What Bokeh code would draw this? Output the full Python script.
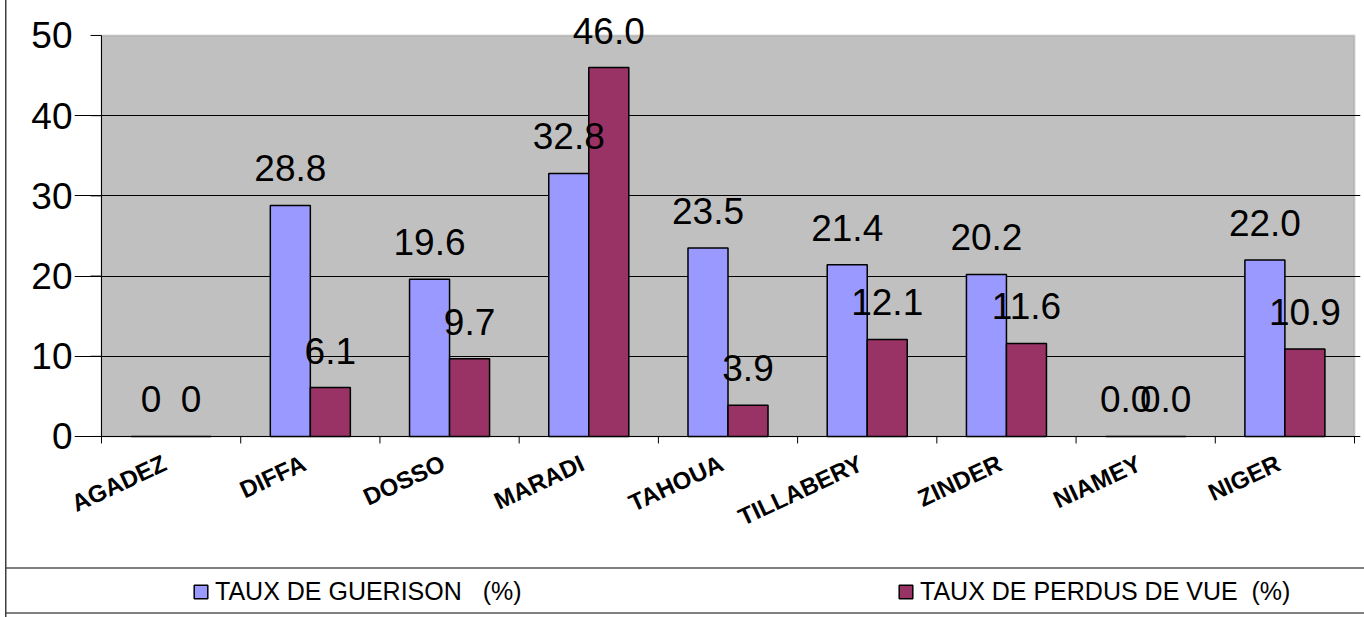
from math import radians

from bokeh.core.properties import value
from bokeh.embed import file_html
from bokeh.models import (BoxAnnotation, ColumnDataSource, FixedTicker, LabelSet, Legend,
                          LegendItem, Range1d)
from bokeh.plotting import figure
from bokeh.resources import INLINE
from bokeh.transform import dodge

# Data
regions = ["AGADEZ", "DIFFA", "DOSSO", "MARADI", "TAHOUA", "TILLABERY", "ZINDER", "NIAMEY", "NIGER"]
taux_guerison = [0, 28.8, 19.6, 32.8, 23.5, 21.4, 20.2, 0.0, 22.0]
taux_perdus = [0, 6.1, 9.7, 46.0, 3.9, 12.1, 11.6, 0.0, 10.9]
labels_guerison = ["0", "28.8", "19.6", "32.8", "23.5", "21.4", "20.2", "0.0", "22.0"]
labels_perdus = ["0", "6.1", "9.7", "46.0", "3.9", "12.1", "11.6", "0.0", "10.9"]
y_ticks = [0, 10, 20, 30, 40, 50]
series_names = ["TAUX DE GUERISON   (%)", "TAUX DE PERDUS DE VUE  (%)"]

FONT = "Liberation Sans"
BLUE = "#9999FF"
PLUM = "#993366"
BAR_W = 0.2874
Y_MAX = y_ticks[-1]
TICK_LEN_Y = 0.87        # category tick length, in value units
TICK_LEN_X = 0.079       # value tick length, in category units

n = len(regions)
centers = [i + 0.5 for i in range(n)]
bounds = list(range(n + 1))
src = ColumnDataSource(dict(pos=centers, region=regions, g=taux_guerison, pv=taux_perdus,
                            lg=labels_guerison, lp=labels_perdus))
edges = ColumnDataSource(dict(x=bounds))
yticks_src = ColumnDataSource(dict(y=y_ticks))

# the frame covers nearly the whole canvas so the value labels, slanted
# region names and the legend strip can all sit on it
p = figure(x_range=Range1d(-0.1939, 9.043), y_range=Range1d(-22.57, 54.36),
           width=1364, height=617, output_backend="svg", toolbar_location=None,
           x_axis_location=None,
           min_border_left=74, min_border_right=4,
           min_border_top=0, min_border_bottom=0)
p.background_fill_color = None
p.border_fill_color = None
p.outline_line_color = None
p.styles = {
    "background-color": "white",
    "background-image": ("linear-gradient(#404040, #404040), "
                         "linear-gradient(#808080, #808080), "
                         "linear-gradient(#808080, #808080)"),
    "background-size": "1.5px 100%, 100% 2px, 100% 2px",
    "background-position": "5px 0px, 5px 567px, 5px 612px",
    "background-repeat": "no-repeat",
}

# grey plot area
p.add_layout(BoxAnnotation(left=0, right=n, bottom=0, top=Y_MAX,
                           fill_color="#C0C0C0", fill_alpha=1,
                           line_color="#808080", line_width=2, level="image"))

# value axis: labels from the axis, line and ticks on the value scale
ya = p.yaxis[0]
ya.ticker = FixedTicker(ticks=y_ticks)
ya.bounds = (0, Y_MAX)
ya.axis_line_color = None
ya.major_tick_line_color = None
ya.major_tick_out = 0
ya.major_tick_in = 0
ya.minor_tick_line_color = None
ya.major_label_text_font = FONT
ya.major_label_text_font_size = "37px"
ya.major_label_text_color = "black"
ya.major_label_standoff = 2

p.segment(x0=0, y0=0, x1=0, y1=Y_MAX, line_color="black", line_width=1)
p.segment(x0=-TICK_LEN_X, y0="y", x1=0, y1="y", source=yticks_src,
          line_color="black", line_width=1)

# horizontal rules, the one at 0 doubling as the category baseline
p.xgrid.visible = False
p.ygrid.ticker = FixedTicker(ticks=y_ticks[:-1])
p.ygrid.grid_line_color = "black"
p.ygrid.grid_line_width = 1
p.ygrid.bounds = (0, n)

# tick marks between the groups
p.segment(x0="x", y0=0, x1="x", y1=-TICK_LEN_Y, source=edges,
          line_color="black", line_width=1)

# bars
r_g = p.vbar(x=dodge("pos", -BAR_W / 2), top="g", width=BAR_W,
             source=src, fill_color=BLUE, line_color="black", line_width=1.5)
r_p = p.vbar(x=dodge("pos", BAR_W / 2), top="pv", width=BAR_W,
             source=src, fill_color=PLUM, line_color="black", line_width=1.5)

for field, text, off in (("g", "lg", -BAR_W / 2), ("pv", "lp", BAR_W / 2)):
    p.add_layout(LabelSet(x=dodge("pos", off), y=field, text=text,
                          source=src, y_offset=24, text_align="center",
                          text_baseline="alphabetic", text_font=value(FONT),
                          text_font_size="37px", text_color="black", level="overlay"))

# slanted region names under each group
p.add_layout(LabelSet(x="pos", y=0, text="region", source=src,
                      x_offset=-12, y_offset=-13, angle=radians(25),
                      text_align="right", text_baseline="top",
                      text_font=value(FONT), text_font_style="bold",
                      text_font_size="24px", text_color="black"))

# legend strip below the chart
legend = Legend(items=[LegendItem(label=series_names[0], renderers=[r_g]),
                       LegendItem(label=series_names[1], renderers=[r_p])],
                orientation="horizontal", location=(118, 11),
                border_line_color=None, background_fill_alpha=0,
                padding=0, margin=0, spacing=0,
                glyph_width=17, glyph_height=17, label_standoff=6, label_width=682,
                label_text_font=FONT, label_text_font_size="25px",
                label_text_color="black")
p.add_layout(legend)

open("out.html", "w").write(file_html(p, INLINE))
